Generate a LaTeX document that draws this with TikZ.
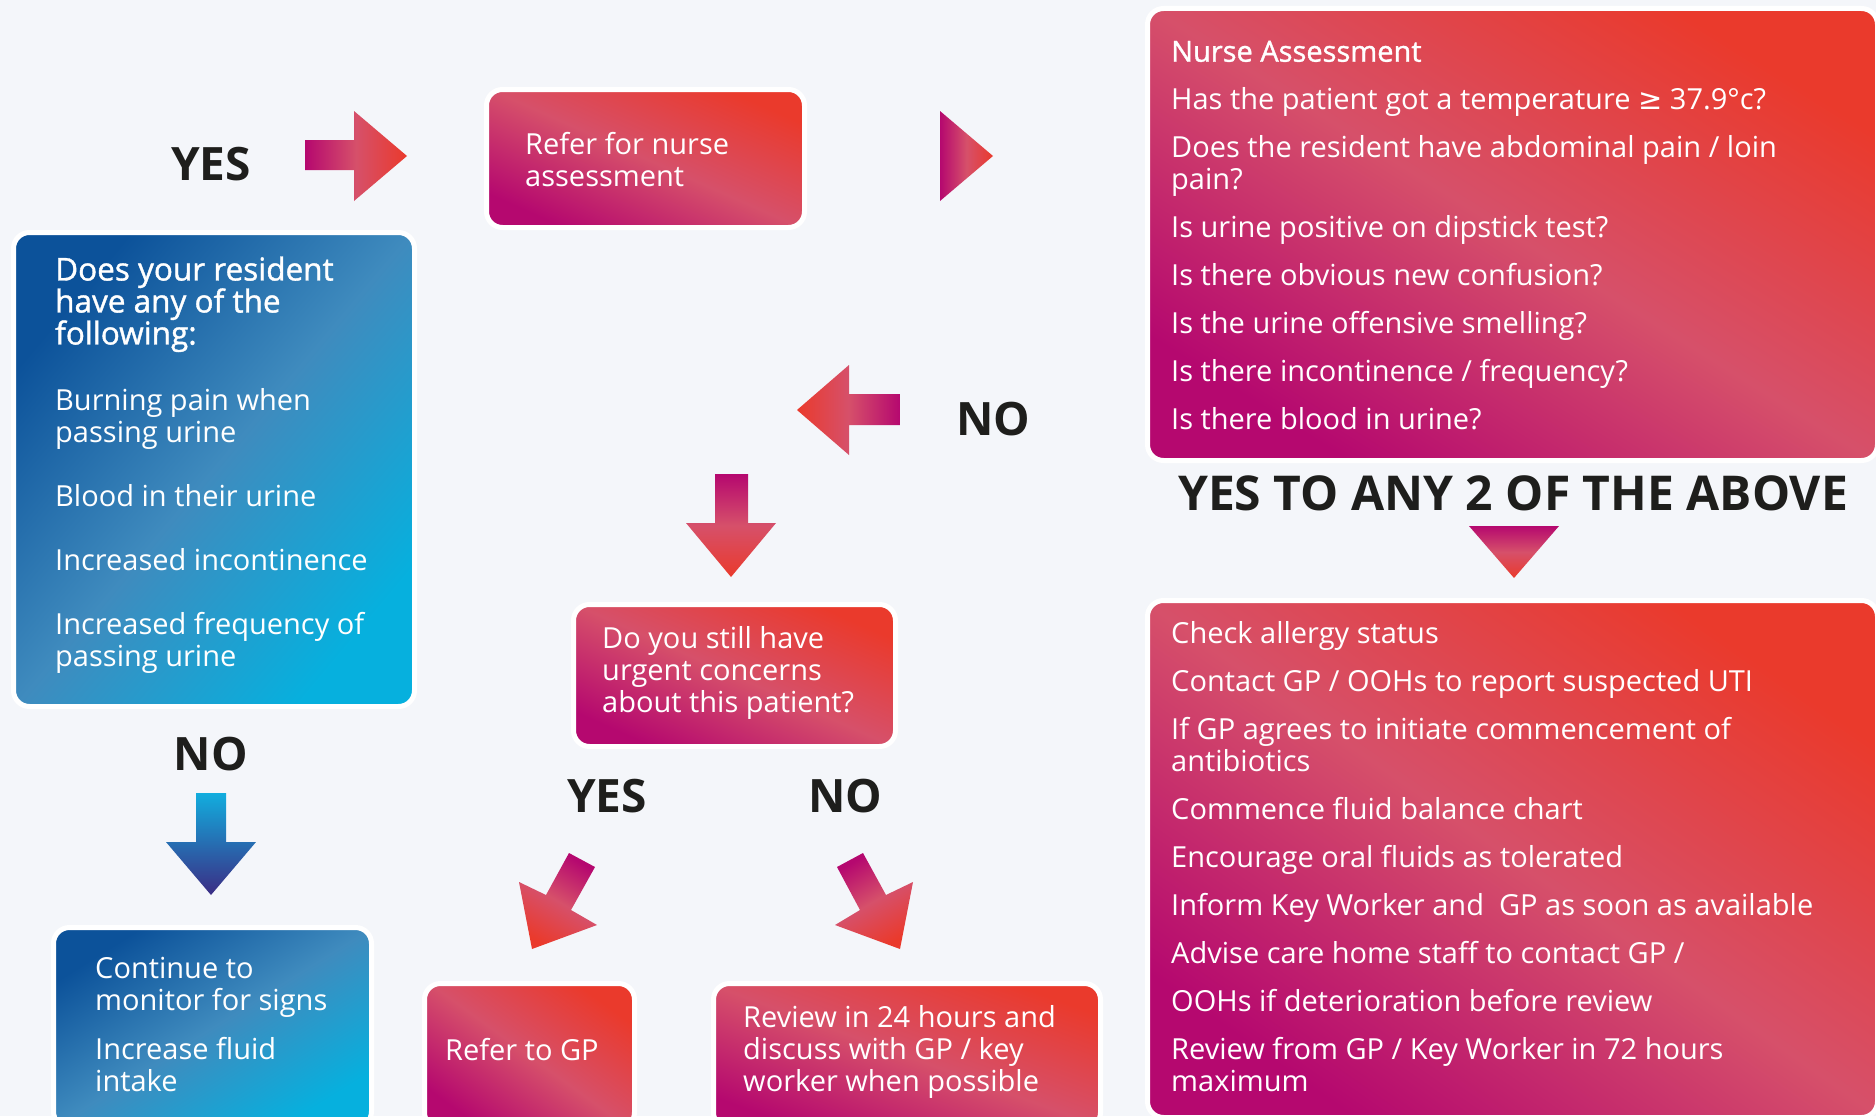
\documentclass[tikz,border=0pt]{standalone}
\usepackage{fontspec}
\setmainfont{Open Sans}
\newfontfamily\semifont{Open Sans}[FakeBold=1.2]
\newfontfamily\symfont{DejaVu Sans}
\definecolor{cMag}{HTML}{B5086F}
\definecolor{cMid}{HTML}{D6506A}
\definecolor{cRed}{HTML}{EA3A2C}
\definecolor{bDark}{HTML}{0C529A}
\definecolor{bMid}{HTML}{3F8BBE}
\definecolor{bLight}{HTML}{06B0DE}
\definecolor{aTop}{HTML}{12ADDE}
\definecolor{aBot}{HTML}{3B2C84}
\definecolor{bg}{HTML}{F4F6FA}
\definecolor{ink}{HTML}{1E1E1C}
\begin{document}
\begin{tikzpicture}[x=1pt,y=-1pt,
  box/.style={draw=white, line width=5pt, rounded corners=16pt, inner sep=0pt, anchor=north west},
  pinkbox/.style={box, top color=cRed, bottom color=cMag, middle color=cMid, shading angle=-45},
  bluebox/.style={box, top color=bDark, bottom color=bLight, middle color=bMid, shading angle=45},
  txt/.style={text=white, font=\fontsize{29}{32}\selectfont, align=left, anchor=west, inner sep=0pt},
  lab/.style={text=ink, font=\fontsize{46}{46}\selectfont\bfseries, inner sep=0pt},
  pinkh/.style={left color=cMag, right color=cRed, middle color=cMid},
  pinkhr/.style={left color=cRed, right color=cMag, middle color=cMid},
  pinkv/.style={top color=cMag, bottom color=cRed, middle color=cMid}
]
\useasboundingbox (0,0) rectangle (1876,1116);
\clip (0,0) rectangle (1876,1116);
\fill[bg] (0,0) rectangle (1876,1116);

% boxes
\node[bluebox, shading angle=50, minimum width=401pt, minimum height=474pt] (q1) at (11,230) {};
\node[pinkbox, shading angle=-24, minimum width=318pt, minimum height=138pt] (refer) at (484,87) {};
\node[pinkbox, shading angle=-32, minimum width=730pt, minimum height=452pt] (assess) at (1145,6) {};
\node[pinkbox, shading angle=-24, minimum width=322pt, minimum height=142pt] (concern) at (571,602) {};
\node[pinkbox, shading angle=-35, minimum width=730pt, minimum height=517pt] (actions) at (1145,598) {};
\node[bluebox, shading angle=32, minimum width=318pt, minimum height=200pt] (monitor) at (51,925) {};
\node[pinkbox, shading angle=-36, minimum width=210pt, minimum height=145pt] (refergp) at (422,981) {};
\node[pinkbox, shading angle=-20, minimum width=387pt, minimum height=145pt] (review) at (711,981) {};

% box texts
\node[txt] (q1t) at (55,465) {{\semifont\fontsize{31.5}{32}\selectfont Does your resident}\\{\semifont\fontsize{31.5}{32}\selectfont have any of the}\\{\semifont\fontsize{31.5}{32}\selectfont following:}\\[34pt]Burning pain when\\passing urine\\[32pt]Blood in their urine\\[32pt]Increased incontinence\\[32pt]Increased frequency of\\passing urine};
\node[txt] (refert) at (525,160) {Refer for nurse\\assessment};
\node[txt] (assesst) at (1171,235.5) {{\semifont Nurse Assessment}\\[16pt]Has the patient got a temperature {\symfont ≥} 37.9°c?\\[16pt]Does the resident have abdominal pain / loin\\pain?\\[16pt]Is urine positive on dipstick test?\\[16pt]Is there obvious new confusion?\\[16pt]Is the urine offensive smelling?\\[16pt]Is there incontinence / frequency?\\[16pt]Is there blood in urine?};
\node[txt] (concernt) at (602,673) {Do you still have\\urgent concerns\\about this patient?};
\node[txt] (actionst) at (1171,856.5) {Check allergy status\\[16pt]Contact GP / OOHs to report suspected UTI\\[16pt]If GP agrees to initiate commencement of\\antibiotics\\[16pt]Commence fluid balance chart\\[16pt]Encourage oral fluids as tolerated\\[16pt]Inform Key Worker and\ \ GP as soon as available\\[16pt]Advise care home staff to contact GP /\\[16pt]OOHs if deterioration before review\\[16pt]Review from GP / Key Worker in 72 hours\\maximum};
\node[txt] (monitort) at (95,1024.5) {Continue to\\monitor for signs\\[17pt]Increase fluid\\intake};
\node[txt] (refergpt) at (445,1050) {Refer to GP};
\node[txt] (reviewt) at (743,1051.5) {Review in 24 hours and\\discuss with GP / key\\worker when possible};

% labels
\node[lab] (yes1) at (211,164) {YES};
\node[lab] (no1) at (993,419) {NO};
\node[lab, font=\fontsize{48}{48}\selectfont\bfseries] (yesany) at (1513,493) {YES TO ANY 2 OF THE ABOVE};
\node[lab] (no2) at (211,754) {NO};
\node[lab] (yes2) at (607,796) {YES};
\node[lab] (no3) at (845,796) {NO};

% block arrows
\shade[pinkh] (305,140) -- (354,140) -- (354,111) -- (407,156) -- (354,201) -- (354,170) -- (305,170) -- cycle;
\shade[pinkh] (940,111) -- (993,156) -- (940,201) -- cycle;
\shade[pinkhr] (797,410) -- (849,365) -- (849,394) -- (900,394) -- (900,425) -- (849,425) -- (849,455) -- cycle;
\shade[pinkv] (715,474) -- (748,474) -- (748,523) -- (776,523) -- (731,577) -- (686,523) -- (715,523) -- cycle;
\shade[pinkv] (1469,526) -- (1559,526) -- (1514,578) -- cycle;
\shade[top color=aTop, bottom color=aBot] (196,793) -- (226,793) -- (226,842) -- (256,842) -- (211,895) -- (166,842) -- (196,842) -- cycle;
\shade[pinkv, shading angle=-30] (569,853) -- (595,867) -- (571,910) -- (597,925) -- (532,949) -- (519,882) -- (546,895) -- cycle;
\shade[pinkv, shading angle=30] (863,853) -- (837,867) -- (860,910) -- (835,925) -- (900,949) -- (913,882) -- (886,895) -- cycle;
\end{tikzpicture}
\end{document}
